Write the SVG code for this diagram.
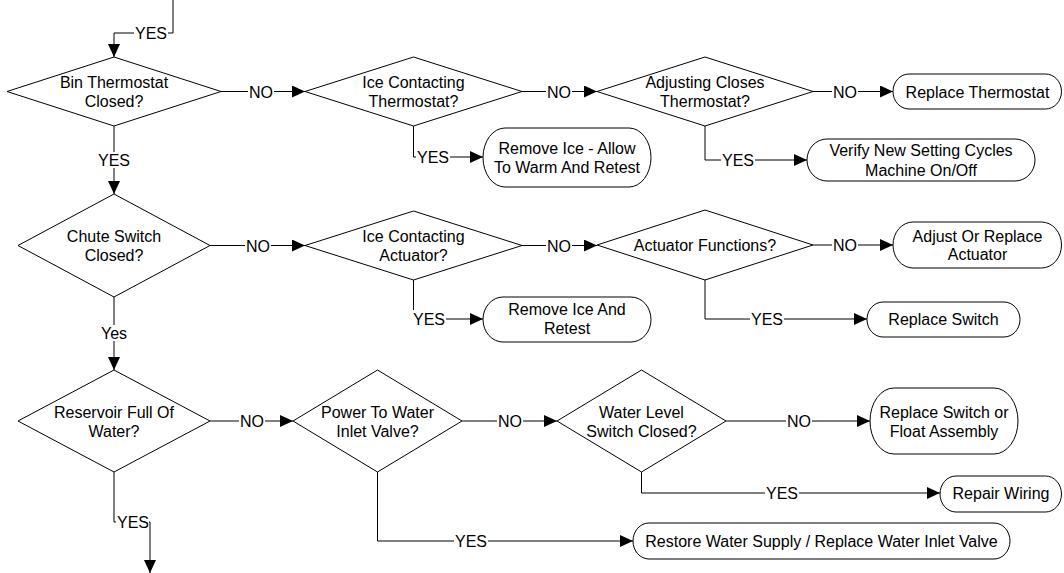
<svg xmlns="http://www.w3.org/2000/svg" width="1064" height="573" viewBox="0 0 1064 573">
<style>
.s{fill:#fff;stroke:#000;stroke-width:1}
.t{font-family:"Liberation Sans",Arial,sans-serif;font-size:16px;fill:#000;text-anchor:middle}
.c{fill:none;stroke:#000;stroke-width:1}
.bg{fill:#fff;stroke:none}
</style>
<defs>
<marker id="ah" markerUnits="userSpaceOnUse" markerWidth="14" markerHeight="13" refX="13" refY="6" orient="auto">
<path d="M0,0 L13,6 L0,12 z" fill="#000"/>
</marker>
</defs>
<rect width="1064" height="573" fill="#fff"/>
<g id="connectors">
<path class="c" d="M173,0 V33 H114 V57" marker-end="url(#ah)"/>
<rect class="bg" x="134" y="26" width="34" height="14"/><text class="t" x="151" y="39">YES</text>
<path class="c" d="M221,91.5 H305" marker-end="url(#ah)"/>
<rect class="bg" x="248" y="84.5" width="26" height="14"/><text class="t" x="261" y="97.5">NO</text>
<path class="c" d="M522,91.5 H597" marker-end="url(#ah)"/>
<rect class="bg" x="546" y="84.5" width="26" height="14"/><text class="t" x="559" y="97.5">NO</text>
<path class="c" d="M813,91.5 H893" marker-end="url(#ah)"/>
<rect class="bg" x="832" y="84.5" width="26" height="14"/><text class="t" x="845" y="97.5">NO</text>
<path class="c" d="M413.5,126 V157 H483" marker-end="url(#ah)"/>
<rect class="bg" x="416" y="150" width="34" height="14"/><text class="t" x="433" y="163">YES</text>
<path class="c" d="M705,126 V160 H807" marker-end="url(#ah)"/>
<rect class="bg" x="721" y="153" width="34" height="14"/><text class="t" x="738" y="166">YES</text>
<path class="c" d="M114,126 V194" marker-end="url(#ah)"/>
<rect class="bg" x="97" y="152" width="34" height="16"/><text class="t" x="114" y="166">YES</text>
<path class="c" d="M210,245.5 H305" marker-end="url(#ah)"/>
<rect class="bg" x="245" y="238.5" width="26" height="14"/><text class="t" x="258" y="251.5">NO</text>
<path class="c" d="M522,245.5 H597" marker-end="url(#ah)"/>
<rect class="bg" x="546" y="238.5" width="26" height="14"/><text class="t" x="559" y="251.5">NO</text>
<path class="c" d="M813,245 H893" marker-end="url(#ah)"/>
<rect class="bg" x="832" y="238" width="26" height="14"/><text class="t" x="845" y="251">NO</text>
<path class="c" d="M413.5,280 V319 H483" marker-end="url(#ah)"/>
<rect class="bg" x="412" y="310" width="34" height="16"/><text class="t" x="429" y="325">YES</text>
<path class="c" d="M705,280 V319 H867" marker-end="url(#ah)"/>
<rect class="bg" x="750" y="312" width="34" height="14"/><text class="t" x="767" y="325">YES</text>
<path class="c" d="M114,297 V370" marker-end="url(#ah)"/>
<rect class="bg" x="99" y="325" width="30" height="16"/><text class="t" x="114" y="339">Yes</text>
<path class="c" d="M210,421 H293" marker-end="url(#ah)"/>
<rect class="bg" x="239" y="414" width="26" height="14"/><text class="t" x="252" y="427">NO</text>
<path class="c" d="M462,421 H557" marker-end="url(#ah)"/>
<rect class="bg" x="497" y="414" width="26" height="14"/><text class="t" x="510" y="427">NO</text>
<path class="c" d="M726,421 H870" marker-end="url(#ah)"/>
<rect class="bg" x="786" y="414" width="26" height="14"/><text class="t" x="799" y="427">NO</text>
<path class="c" d="M641.5,472 V493 H940" marker-end="url(#ah)"/>
<rect class="bg" x="765" y="486" width="34" height="14"/><text class="t" x="782" y="499">YES</text>
<path class="c" d="M377.5,472 V541 H633" marker-end="url(#ah)"/>
<rect class="bg" x="454" y="534" width="34" height="14"/><text class="t" x="471" y="547">YES</text>
<path class="c" d="M114,472 V522 H150 V573" marker-end="url(#ah)"/>
<rect class="bg" x="116" y="514" width="33" height="16"/><text class="t" x="133" y="528">YES</text>
</g>
<g id="d1"><polygon class="s" points="114,57 221,91.5 114,126 7,91.5"/><text class="t" x="114" y="87.5">Bin Thermostat</text><text class="t" x="114" y="106.5">Closed?</text></g>
<g id="d2"><polygon class="s" points="413.5,57 522,91.5 413.5,126 305,91.5"/><text class="t" x="413.5" y="87.5">Ice Contacting</text><text class="t" x="413.5" y="106.5">Thermostat?</text></g>
<g id="d3"><polygon class="s" points="705,57 813,91.5 705,126 597,91.5"/><text class="t" x="705" y="87.5">Adjusting Closes</text><text class="t" x="705" y="106.5">Thermostat?</text></g>
<g id="b1"><rect class="s" x="483" y="128" width="168" height="59" rx="22" ry="29.5"/><text class="t" x="567" y="154">Remove Ice - Allow</text><text class="t" x="567" y="173">To Warm And Retest</text></g>
<g id="b2"><rect class="s" x="893" y="74" width="168.5" height="35" rx="16" ry="17.5"/><text class="t" x="977.5" y="97.5">Replace Thermostat</text></g>
<g id="b3"><rect class="s" x="807" y="139" width="228" height="42" rx="20" ry="21"/><text class="t" x="921" y="156">Verify New Setting Cycles</text><text class="t" x="921" y="176">Machine On/Off</text></g>
<g id="d4"><polygon class="s" points="114,194 210,245.5 114,297 18,245.5"/><text class="t" x="114" y="241.5">Chute Switch</text><text class="t" x="114" y="260.5">Closed?</text></g>
<g id="d5"><polygon class="s" points="413.5,211 522,245.5 413.5,280 305,245.5"/><text class="t" x="413.5" y="241.5">Ice Contacting</text><text class="t" x="413.5" y="260.5">Actuator?</text></g>
<g id="d6"><polygon class="s" points="705,210 813,245 705,280 597,245"/><text class="t" x="705" y="250.5">Actuator Functions?</text></g>
<g id="b4"><rect class="s" x="893" y="222" width="168.5" height="46" rx="20" ry="23"/><text class="t" x="977.5" y="242">Adjust Or Replace</text><text class="t" x="977.5" y="260">Actuator</text></g>
<g id="b5"><rect class="s" x="483" y="297" width="168" height="45" rx="20" ry="22.5"/><text class="t" x="567" y="315">Remove Ice And</text><text class="t" x="567" y="334">Retest</text></g>
<g id="b6"><rect class="s" x="867" y="302" width="153" height="35" rx="16" ry="17.5"/><text class="t" x="943.5" y="325">Replace Switch</text></g>
<g id="d7"><polygon class="s" points="114,370 210,421 114,472 18,421"/><text class="t" x="114" y="417.5">Reservoir Full Of</text><text class="t" x="114" y="436.5">Water?</text></g>
<g id="d8"><polygon class="s" points="377.5,370 462,421 377.5,472 293,421"/><text class="t" x="377.5" y="417.5">Power To Water</text><text class="t" x="377.5" y="436.5">Inlet Valve?</text></g>
<g id="d9"><polygon class="s" points="641.5,370 726,421 641.5,472 557,421"/><text class="t" x="641.5" y="417.5">Water Level</text><text class="t" x="641.5" y="436.5">Switch Closed?</text></g>
<g id="b7"><rect class="s" x="870" y="388" width="148" height="66" rx="24" ry="33"/><text class="t" x="944" y="418">Replace Switch or</text><text class="t" x="944" y="437">Float Assembly</text></g>
<g id="b8"><rect class="s" x="940" y="476" width="121.5" height="36" rx="16" ry="18"/><text class="t" x="1001" y="499">Repair Wiring</text></g>
<g id="b9"><rect class="s" x="633" y="523" width="377" height="36" rx="16" ry="18"/><text class="t" x="821.5" y="547">Restore Water Supply / Replace Water Inlet Valve</text></g>
</svg>
